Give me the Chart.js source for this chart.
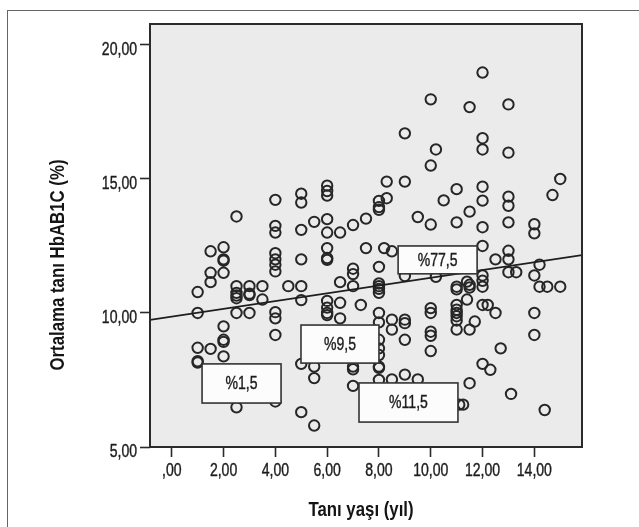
<!DOCTYPE html>
<html>
<head>
<meta charset="utf-8">
<script src="https://cdn.jsdelivr.net/npm/chart.js@4/dist/chart.umd.min.js"></script>
<style>
    body { margin: 0; background: #fff; }
    canvas { display: block; }
</style>
</head>
<body>
<canvas id="chart" width="639" height="527"></canvas>
<script>
// tanı yaşı (yıl) ve o yaştaki hastaların ortalama HbA1c değerleri
var taniYaslari = [1, 1.5, 2, 2.5, 3, 3.5, 4, 4.5, 5, 5.5, 6, 6.5, 7, 7.3, 7.5, 8, 8.2, 8.3, 8.5, 9, 9.5,
    10, 10.2, 10.5, 11, 11.1, 11.25, 11.4, 11.5, 11.7, 12, 12.2, 12.3, 12.5, 12.7, 13, 13.1, 13.3,
    14, 14.2, 14.4, 14.5, 14.7, 15];
var hba1cDegerleri = [
    [10.78, 10.0, 8.7, 8.2, 8.15],
    [12.3, 11.5, 11.15, 8.66],
    [12.45, 12.0, 11.95, 11.5, 9.5, 9.0, 8.92, 8.38],
    [13.6, 11.0, 10.75, 10.65, 10.55, 10.0, 6.48],
    [11.0, 10.72, 10.67, 10.0],
    [11.0, 10.5],
    [14.22, 13.25, 13.0, 12.23, 12.0, 11.8, 11.55, 10.03, 9.8, 9.18, 6.7],
    [11.0],
    [14.45, 14.12, 13.1, 12.0, 11.0, 10.48, 8.1, 6.3],
    [13.4, 8.0, 7.57, 5.8],
    [14.75, 14.55, 14.38, 13.5, 13.0, 12.42, 12.05, 11.98, 10.45, 10.2, 10.0, 9.92],
    [13.0, 11.15, 10.38, 9.8],
    [13.28, 11.65, 11.45, 11.0, 8.0, 7.9, 7.28],
    [10.3],
    [13.52, 12.42],
    [14.18, 13.95, 13.85, 11.72, 11.1, 11.0, 10.9, 10.75, 10.0, 9.65, 9.0, 8.68, 8.43, 8.0, 7.95, 7.5],
    [12.42],
    [14.9, 14.28],
    [12.3, 9.75, 9.38, 7.52],
    [16.7, 14.9, 11.38, 9.75, 9.62, 9.0, 7.7],
    [13.58, 7.52],
    [17.97, 15.5, 13.3, 10.18, 10.0, 9.3, 9.15, 8.58],
    [16.1, 11.35],
    [14.2],
    [14.62, 13.38, 10.98, 10.88, 10.3, 10.12, 10.0, 9.88, 9.72, 9.38],
    [6.58],
    [6.58],
    [11.17, 10.5],
    [17.68, 13.78, 11.05, 10.95, 9.38, 7.38],
    [9.68],
    [18.97, 16.52, 16.1, 14.71, 14.19, 13.2, 12.5, 11.4, 11.2, 10.98, 10.3, 8.1],
    [10.3],
    [7.88],
    [12.0, 10.0],
    [8.68],
    [17.78, 15.98, 14.34, 14.0, 13.38, 12.32, 12.0, 11.52],
    [6.98],
    [11.52],
    [13.31, 12.97, 11.4, 10.0, 9.18],
    [11.8, 10.98],
    [6.38],
    [10.98],
    [14.4],
    [15.0, 10.98]
];

// regresyon doğrusunun eksen sınırlarındaki uçları
var egriX = [-0.84, 15.84];
var egriY = [9.74, 12.16];

var xTickDegerleri = [0, 2, 4, 6, 8, 10, 12, 14];
var yTickDegerleri = [5, 10, 15, 20];

var yuzdeEtiketleri = ["%77,5", "%9,5", "%1,5", "%11,5"];

// etiket kutuları (eksen birimleriyle)
var kutular = [
    { x1: 8.74, x2: 11.79, y1: 12.50, y2: 11.46 },
    { x1: 4.99, x2: 8.00, y1: 9.55, y2: 8.13 },
    { x1: 1.17, x2: 4.22, y1: 8.10, y2: 6.64 },
    { x1: 7.23, x2: 11.05, y1: 7.39, y2: 5.93 }
];

var yaziTipi = "'Liberation Sans', Arial, sans-serif";

var noktalar = [];
for (let i in taniYaslari) {
    for (let v of hba1cDegerleri[i]) {
        noktalar.push({ x: taniYaslari[i], y: v });
    }
}

function spssSayi(v) {
    if (v === 0) return ",00";
    return v.toFixed(2).replace(".", ",");
}

// dar (condensed) görünüm için yatayda sıkıştırılmış yazı
function darYazi(ctx, metin, x, y, hiza, font, sx, aci, kalin) {
    ctx.save();
    ctx.translate(x, y);
    if (aci) ctx.rotate(aci);
    ctx.scale(sx, 1);
    ctx.font = font;
    ctx.textAlign = hiza;
    ctx.textBaseline = "middle";
    ctx.fillText(metin, 0, 0);
    if (kalin) {
        ctx.strokeStyle = ctx.fillStyle;
        ctx.lineWidth = kalin;
        ctx.strokeText(metin, 0, 0);
    }
    ctx.restore();
}

var cerceve = {
    id: "cerceve",
    beforeDraw: function (chart) {
        let ctx = chart.ctx, a = chart.chartArea;
        ctx.save();
        ctx.fillStyle = "#fff";
        ctx.fillRect(0, 0, chart.width, chart.height);
        ctx.strokeStyle = "#666";
        ctx.lineWidth = 1;
        ctx.strokeRect(7.5, 10.5, 700, 600);
        ctx.fillStyle = "#ebebeb";
        ctx.fillRect(a.left, a.top, a.right - a.left, a.bottom - a.top);
        ctx.restore();
    },
    afterDatasetsDraw: function (chart) {
        let ctx = chart.ctx, a = chart.chartArea;
        let xs = chart.scales.x, ys = chart.scales.y;
        ctx.save();
        ctx.strokeStyle = "#2b2b2b";
        ctx.lineWidth = 2;
        ctx.strokeRect(a.left, a.top, a.right - a.left, a.bottom - a.top);

        kutular.forEach(function (k, i) {
            let l = xs.getPixelForValue(k.x1), r = xs.getPixelForValue(k.x2);
            let t = ys.getPixelForValue(k.y1), b = ys.getPixelForValue(k.y2);
            ctx.fillStyle = "#fcfcfc";
            ctx.fillRect(l, t, r - l, b - t);
            ctx.strokeStyle = "#333";
            ctx.lineWidth = 1.6;
            ctx.strokeRect(l, t, r - l, b - t);
            ctx.fillStyle = "#1c1c1c";
            darYazi(ctx, yuzdeEtiketleri[i], (l + r) / 2, (t + b) / 2 + 1, "center", "18px " + yaziTipi, 0.78, 0, 0.4);
        });
        ctx.restore();
    },
    afterDraw: function (chart) {
        let ctx = chart.ctx, a = chart.chartArea;
        let xs = chart.scales.x, ys = chart.scales.y;
        ctx.save();
        ctx.fillStyle = "#1c1c1c";
        xs.ticks.forEach(function (t) {
            darYazi(ctx, spssSayi(t.value), xs.getPixelForValue(t.value), a.bottom + 24, "center", "18px " + yaziTipi, 0.78, 0, 0.4);
        });
        ys.ticks.forEach(function (t) {
            darYazi(ctx, spssSayi(t.value), a.left - 13, ys.getPixelForValue(t.value) + 5, "right", "18px " + yaziTipi, 0.78, 0, 0.4);
        });
        ctx.fillStyle = "#141414";
        darYazi(ctx, "Tanı yaşı (yıl)", 361, 510, "center", "bold 21px " + yaziTipi, 0.8);
        darYazi(ctx, "Ortalama tanı HbAB1C (%)", 58, 265, "center", "bold 21px " + yaziTipi, 0.8, -Math.PI / 2);
        ctx.restore();
    }
};

var grafik = new Chart(document.getElementById("chart"), {
    type: "scatter",
    data: {
        datasets: [{
            type: "line",
            data: egriX.map(function (x, i) { return { x: x, y: egriY[i] }; }),
            borderColor: "#1e1e1e",
            borderWidth: 1.8,
            pointRadius: 0,
            fill: false
        }, {
            data: noktalar,
            pointStyle: "circle",
            pointRadius: 5.2,
            borderColor: "#262626",
            backgroundColor: "rgba(0,0,0,0)",
            borderWidth: 2
        }]
    },
    options: {
        responsive: false,
        animation: false,
        layout: { padding: { top: 24, right: 57, left: 0, bottom: 0 } },
        plugins: {
            legend: { display: false },
            tooltip: { enabled: false }
        },
        scales: {
            x: {
                type: "linear",
                min: -0.84,
                max: 15.84,
                afterBuildTicks: function (scale) {
                    scale.ticks = xTickDegerleri.map(function (v) { return { value: v }; });
                },
                afterFit: function (scale) { scale.height = 80; },
                border: { display: false },
                grid: { drawOnChartArea: false, drawTicks: true, tickLength: 10, tickColor: "#2b2b2b", tickWidth: 1.6 },
                ticks: { display: false }
            },
            y: {
                min: 5,
                max: 20.78,
                afterBuildTicks: function (scale) {
                    scale.ticks = yTickDegerleri.map(function (v) { return { value: v }; });
                },
                afterFit: function (scale) { scale.width = 150; },
                border: { display: false },
                grid: { drawOnChartArea: false, drawTicks: true, tickLength: 10, tickColor: "#2b2b2b", tickWidth: 1.6 },
                ticks: { display: false }
            }
        }
    },
    plugins: [cerceve]
});
</script>
</body>
</html>
